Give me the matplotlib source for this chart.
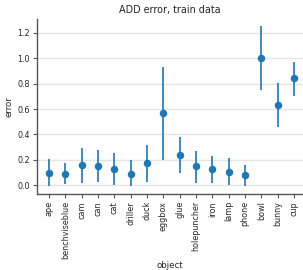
import numpy as np
import matplotlib
matplotlib.use('Agg')
import matplotlib.pyplot as plt

objects = ['ape', 'benchviseblue', 'cam', 'can', 'cat', 'driller', 'duck', 'eggbox',
           'glue', 'holepuncher', 'iron', 'lamp', 'phone', 'bowl', 'bunny', 'cup']
mean_err = [0.098, 0.092, 0.156, 0.150, 0.129, 0.092, 0.174, 0.567,
            0.240, 0.148, 0.127, 0.108, 0.077, 1.003, 0.633, 0.842]
ci_low = [-0.005, 0.010, 0.018, 0.024, 0.005, -0.008, 0.029, 0.198,
          0.098, 0.021, 0.021, 0.000, -0.005, 0.752, 0.456, 0.704]
ci_high = [0.203, 0.177, 0.295, 0.277, 0.253, 0.195, 0.317, 0.934,
           0.377, 0.269, 0.230, 0.216, 0.158, 1.253, 0.807, 0.974]

plt.rcParams['font.family'] = 'DejaVu Sans'
fig = plt.figure(figsize=(3.03, 2.70), dpi=100)
ax = fig.add_axes([0.122, 0.281, 0.878, 0.649])

x = np.arange(len(objects))
mean_err = np.array(mean_err)
yerr = [mean_err - np.array(ci_low), np.array(ci_high) - mean_err]
ax.errorbar(x, mean_err, yerr=yerr, fmt='o', color='#1f77b4', ms=4.4, elinewidth=1.2,
            capsize=0, zorder=3)

ax.set_xticks(x)
ax.set_xticklabels(objects, rotation=90, fontsize=5.8)
ax.set_yticks(np.arange(0, 1.21, 0.2))
ax.set_yticklabels(['%.1f' % v for v in np.arange(0, 1.21, 0.2)], fontsize=5.8)
ax.set_xlim(-0.74, len(objects) - 0.45)
ax.set_ylim(-0.07, 1.31)
ax.grid(axis='y', color='#e5e5e5', linewidth=1)
ax.set_axisbelow(True)
for side in ['top', 'right']:
    ax.spines[side].set_visible(False)
for side in ['left', 'bottom']:
    ax.spines[side].set_color('#555555')
    ax.spines[side].set_linewidth(1)
ax.tick_params(length=3, width=0.8, color='#555555', labelcolor='#262626', pad=2)
ax.set_xlabel('object', fontsize=6.2, color='#262626', labelpad=1)
ax.set_ylabel('error', fontsize=6.2, color='#262626', labelpad=3)
ax.set_title('ADD error, train data', fontsize=6.9, color='#262626', pad=4)

fig.savefig('out.png', dpi=100)
